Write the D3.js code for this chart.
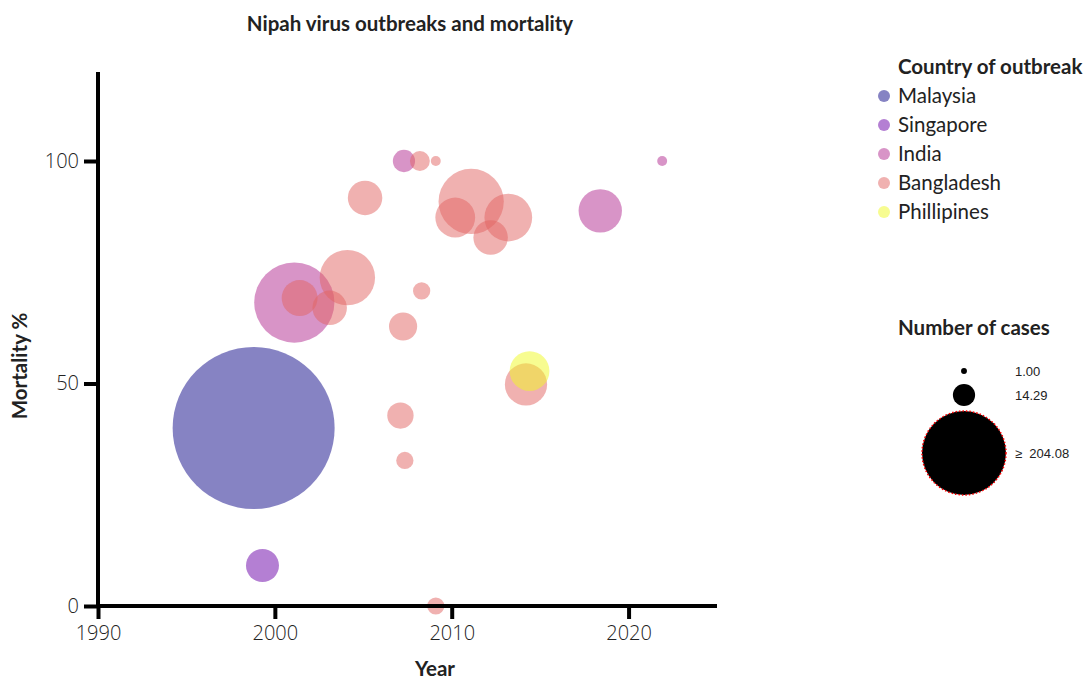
<!DOCTYPE html>
<html lang="en">
<head>
<meta charset="UTF-8">
<title>Nipah virus outbreaks and mortality</title>
<style>
  body { margin: 0; background: #fff; }
  svg text { fill: #222; }
  .title, .axis-title, .legend-title { font-family: Lato, "Open Sans", sans-serif; font-weight: 700; }
  .tick text { font-family: "Open Sans", sans-serif; font-weight: 300; font-size: 20px; }
  .legend-item { font-family: Lato, "Open Sans", sans-serif; font-size: 20.5px; }
  .size-label { font-family: "Liberation Sans", Arial, sans-serif; font-size: 13px; }
</style>
</head>
<body>
<svg id="chart" width="1087" height="679"></svg>
<script src="https://d3js.org/d3.v7.min.js"></script>
<script>
// countries and their colours
const countries = ["Malaysia", "Singapore", "India", "Bangladesh", "Phillipines"];
const countryColors = ["#0d0887", "#6a00a8", "#b12a90", "#e16462", "#f0f921"];

// one entry per outbreak
const outbreakCountry = ["Malaysia", "Singapore", "India", "Bangladesh", "Bangladesh", "Bangladesh",
  "Bangladesh", "Bangladesh", "Bangladesh", "India", "Bangladesh", "Bangladesh", "Bangladesh",
  "Bangladesh", "Bangladesh", "Bangladesh", "Bangladesh", "Bangladesh", "Bangladesh",
  "Phillipines", "Bangladesh", "India", "India"];
const outbreakYear = [1998.8, 1999.3, 2001.1, 2001.4, 2003.1, 2004.1,
  2005.1, 2007.1, 2007.25, 2007.3, 2007.35, 2008.2, 2008.3,
  2009.1, 2009.1, 2010.2, 2011.1, 2012.2, 2013.2,
  2014.4, 2014.2, 2018.4, 2021.9];
const outbreakMortality = [40, 9.1, 68.2, 69.2, 67, 73.8,
  91.7, 42.8, 62.8, 100, 32.7, 100, 70.8,
  100, 0, 87.3, 90.9, 82.8, 87.3,
  52.8, 49.8, 88.8, 100];
const outbreakCases = [265, 11, 65, 13, 12, 31,
  12, 7, 8, 5, 3, 4, 3,
  1, 3, 16, 43, 12, 23,
  16, 18, 19, 1];

const xTicks = [1990, 2000, 2010, 2020];
const yTicks = [0, 50, 100];
const sizeLegendValues = [1.00, 14.29, 204.08];
const sizeLegendLabels = ["1.00", "14.29", "\u2265  204.08"];

const outbreaks = outbreakYear.map((v, i) => ({
  country: outbreakCountry[i], year: v, mortality: outbreakMortality[i], cases: outbreakCases[i]
}));
// draw Bangladesh 2014 under Philippines
outbreaks.sort((a, b) => a.year - b.year);

const svg = d3.select("#chart");
const plotLeft = 98, plotRight = 717, plotTop = 72, plotBottom = 606;

const x = d3.scaleLinear().domain([1990, 2025]).range([plotLeft, plotRight]);
const y = d3.scaleLinear().domain([0, 120]).range([plotBottom, plotTop]);
const r = d3.scaleSqrt().domain([0, 265]).range([0, 81]);
const color = d3.scaleOrdinal().domain(countries).range(countryColors);

// bubbles
svg.append("g")
  .selectAll("circle")
  .data(outbreaks)
  .join("circle")
  .attr("cx", d => x(d.year))
  .attr("cy", d => y(d.mortality))
  .attr("r", d => r(d.cases))
  .attr("fill", d => color(d.country))
  .attr("fill-opacity", 0.5);

// axes
const xAxis = svg.append("g")
  .attr("transform", `translate(0,${plotBottom})`)
  .call(d3.axisBottom(x).tickValues(xTicks).tickFormat(d3.format("d")).tickSize(13).tickPadding(7));
const yAxis = svg.append("g")
  .attr("transform", `translate(${plotLeft},0)`)
  .call(d3.axisLeft(y).tickValues(yTicks).tickSize(14).tickPadding(5));

[xAxis, yAxis].forEach(g => {
  g.select(".domain").attr("stroke", "#000").attr("stroke-width", 4);
  g.selectAll(".tick line").attr("stroke", "#000").attr("stroke-width", 4);
  g.selectAll(".tick text").attr("fill", "#333");
});
xAxis.select(".domain").attr("d", `M${plotLeft - 2},0H${plotRight}`);
yAxis.select(".domain").attr("d", `M0,${plotTop}V${plotBottom + 2}`);

// titles
svg.append("text").attr("class", "title")
  .attr("x", 410).attr("y", 31).attr("text-anchor", "middle")
  .attr("font-size", 20.5).text("Nipah virus outbreaks and mortality");
svg.append("text").attr("class", "axis-title")
  .attr("x", 435).attr("y", 676).attr("text-anchor", "middle")
  .attr("font-size", 20.5).text("Year");
svg.append("text").attr("class", "axis-title")
  .attr("transform", "translate(27,366) rotate(-90)")
  .attr("text-anchor", "middle")
  .attr("font-size", 20.5).text("Mortality %");

// country legend
svg.append("text").attr("class", "legend-title")
  .attr("x", 898).attr("y", 74).attr("font-size", 20.5).text("Country of outbreak");
const legend = svg.append("g")
  .selectAll("g")
  .data(countries)
  .join("g")
  .attr("transform", (d, i) => `translate(0,${96 + i * 29})`);
legend.append("circle")
  .attr("cx", 884).attr("r", 6)
  .attr("fill", d => color(d)).attr("fill-opacity", 0.5);
legend.append("text").attr("class", "legend-item")
  .attr("x", 898).attr("dy", "0.35em").text(d => d);

// size legend
svg.append("text").attr("class", "legend-title")
  .attr("x", 898).attr("y", 335).attr("font-size", 20.5).text("Number of cases");
const rLegend = d3.scaleSqrt().domain([0, 204.08]).range([0, 42]);
const sizeY = [371, 395, 453];
const sizeLegend = svg.append("g")
  .selectAll("g")
  .data(sizeLegendValues)
  .join("g")
  .attr("transform", (d, i) => `translate(964,${sizeY[i]})`);
sizeLegend.append("circle")
  .attr("r", d => rLegend(d))
  .attr("fill", "#000")
  .attr("stroke", (d, i) => i === 2 ? "red" : "none")
  .attr("stroke-width", 1.5)
  .attr("stroke-dasharray", "1.5,2");
sizeLegend.append("text").attr("class", "size-label")
  .attr("x", 51).attr("dy", "0.35em")
  .style("white-space", "pre")
  .text((d, i) => sizeLegendLabels[i]);
</script>
</body>
</html>
